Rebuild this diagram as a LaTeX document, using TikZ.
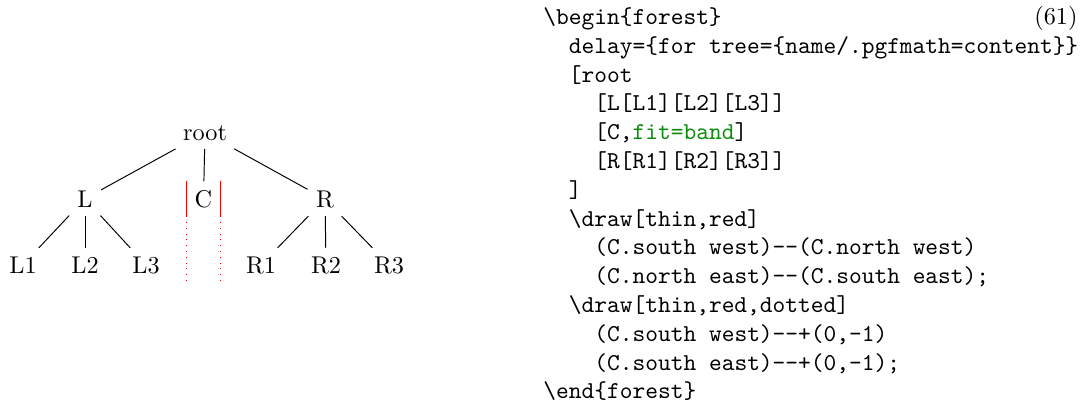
\documentclass[tikz,border=0pt]{standalone}
\usepackage{fontspec}
\definecolor{codegreen}{rgb}{0.05,0.55,0.05}
\begin{document}
\begin{tikzpicture}[x=0.4124pt,y=-0.4124pt,
  tn/.style={anchor=base},
  edge/.style={draw,thin},
  code/.style={anchor=base west,inner sep=0pt,font=\ttfamily}]
\useasboundingbox (0,0) rectangle (1087,407);
% tree
\node[tn] (root) at (205,140) {root};
\node[tn] (L) at (85,207) {L};
\node[tn] (C) at (203.5,207) {C};
\node[tn] (R) at (325,207) {R};
\node[tn] (L1) at (23,273) {L1};
\node[tn] (L2) at (85,273) {L2};
\node[tn] (L3) at (146,273) {L3};
\node[tn] (R1) at (261,273) {R1};
\node[tn] (R2) at (326,273) {R2};
\node[tn] (R3) at (389,273) {R3};
\path[edge] (root) -- (L);
\path[edge] (root) -- (C);
\path[edge] (root) -- (R);
\path[edge] (L) -- (L1);
\path[edge] (L) -- (L2);
\path[edge] (L) -- (L3);
\path[edge] (R) -- (R1);
\path[edge] (R) -- (R2);
\path[edge] (R) -- (R3);
\draw[thin,red] (C.south west) -- (C.north west) (C.north east) -- (C.south east);
\draw[thin,red,dotted] (C.south west) -- +(0,-1cm) (C.south east) -- +(0,-1cm);
% code
\def\xa{543}\def\xb{568.5}\def\xc{594}
\node[code] (c1) at (\xa,24.5) {\textbackslash begin\{forest\}};
\node[anchor=base east,inner sep=0pt] (num) at (1078,24.5) {(61)};
\node[code] (c2) at (\xb,53.3) {delay=\{for tree=\{name/.pgfmath=content\}\}};
\node[code] (c3) at (\xb,82.1) {[root};
\node[code] (c4) at (\xc,110.9) {[L[L1][L2][L3]]};
\node[code] (c5) at (\xc,139.7) {[C,\textcolor{codegreen}{fit=band}]};
\node[code] (c6) at (\xc,168.5) {[R[R1][R2][R3]]};
\node[code] (c7) at (\xb,197.3) {]};
\node[code] (c8) at (\xb,226.1) {\textbackslash draw[thin,red]};
\node[code] (c9) at (\xc,254.9) {(C.south west)--(C.north west)};
\node[code] (c10) at (\xc,283.7) {(C.north east)--(C.south east);};
\node[code] (c11) at (\xb,312.5) {\textbackslash draw[thin,red,dotted]};
\node[code] (c12) at (\xc,341.3) {(C.south west)--+(0,-1)};
\node[code] (c13) at (\xc,370.1) {(C.south east)--+(0,-1);};
\node[code] (c14) at (\xa,398.9) {\textbackslash end\{forest\}};
\end{tikzpicture}
\end{document}
